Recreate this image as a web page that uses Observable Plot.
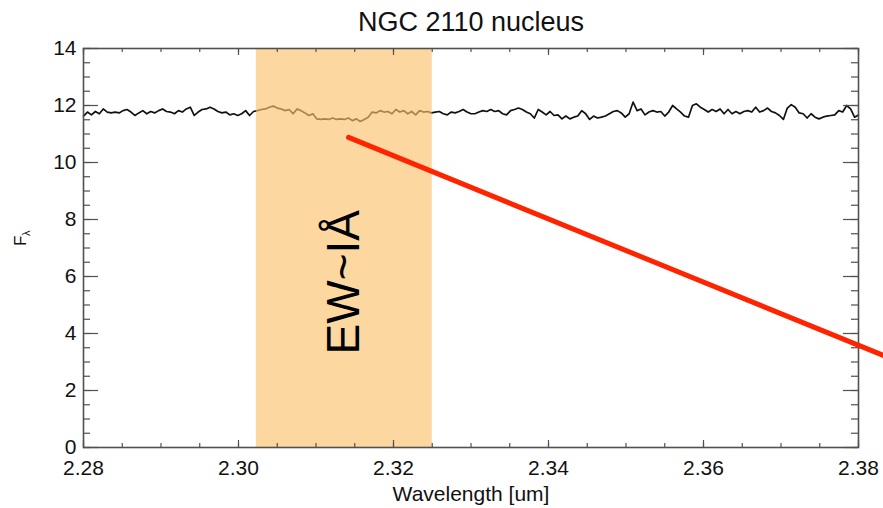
<!DOCTYPE html>
<html>
<head>
<meta charset="utf-8">
<script src="https://cdn.jsdelivr.net/npm/d3@7"></script>
<script src="https://cdn.jsdelivr.net/npm/@observablehq/plot@0.6"></script>
<style>
  html, body { margin: 0; padding: 0; background: white; }
</style>
</head>
<body>
<div id="chart"></div>
<script>
// ---- data ----
const titleText = "NGC 2110 nucleus";
const xLabelText = "Wavelength [um]";
const wavelengthStart = 2.28;
const wavelengthEnd = 2.38;
const flux = [
  11.63,11.77,11.67,11.79,11.71,11.88,11.77,11.74,11.77,11.74,11.82,11.86,11.77,11.65,11.74,11.82,11.71,11.79,11.74,11.82,11.88,11.79,11.77,11.71,11.82,11.77,11.88,11.94,11.65,11.77,11.86,11.88,11.94,
  11.88,11.79,11.74,11.77,11.67,11.71,11.65,11.71,11.82,11.65,11.79,11.82,11.86,11.88,11.94,11.98,11.91,11.88,11.82,11.86,11.71,11.88,11.82,11.74,11.65,11.71,11.53,11.51,11.53,11.51,11.56,11.51,11.53,
  11.51,11.56,11.47,11.53,11.44,11.51,11.59,11.77,11.74,11.82,11.77,11.79,11.71,11.86,11.77,11.82,11.71,11.79,11.67,11.82,11.77,11.79,11.74,11.77,11.79,11.71,11.67,11.77,11.74,11.79,11.86,11.77,11.71,
  11.71,11.77,11.82,11.79,11.86,11.79,11.82,11.71,11.67,11.82,11.86,11.91,11.86,11.77,11.71,11.56,11.86,11.77,11.67,11.79,11.65,11.67,11.53,11.63,11.53,11.59,11.63,11.82,11.71,11.51,11.63,11.56,11.59,
  11.63,11.71,11.79,11.82,11.74,11.59,11.71,12.12,11.82,11.88,11.67,11.77,11.82,11.77,11.79,11.63,11.77,12.00,11.88,11.77,11.63,11.59,12.00,12.06,11.94,11.86,11.77,11.86,11.79,11.88,11.71,11.86,11.71,
  11.79,11.71,11.79,11.82,11.77,11.94,11.77,11.82,11.91,11.79,11.74,11.65,11.51,11.91,12.03,11.94,11.74,11.71,11.56,11.71,11.59,11.53,11.59,11.63,11.65,11.67,11.82,11.77,12.00,11.88,11.59,11.67
];
const xTicks = [2.28, 2.30, 2.32, 2.34, 2.36, 2.38];
const yTicks = [0, 2, 4, 6, 8, 10, 12, 14];
const bandStart = [2.3023];
const bandEnd = [2.3250];
const redLineX = [2.3142, 2.3832];
const redLineY = [10.88, 3.23];
const ewText = ["EW~IÅ"];
const ewX = [2.3137];
const ewY = [5.8];

// ---- build tables ----
const step = (wavelengthEnd - wavelengthStart) / (flux.length - 1);
const spectrum = flux.map((f, i) => ({w: wavelengthStart + i * step, f}));
const band = bandStart.map((x1, i) => ({x1, x2: bandEnd[i]}));
const redLine = redLineX.map((x, i) => ({x, y: redLineY[i]}));
const ew = ewText.map((t, i) => ({t, x: ewX[i], y: ewY[i]}));
const xMinor = d3.range(0, 21).map(i => wavelengthStart + i * 0.005);
const yMinor = d3.range(0, 29).map(i => i * 0.5);

const W = 883, H = 508, mT = 48, mB = 61, mL = 83, mR = 25;
const fh = H - mT - mB, fw = W - mL - mR;
const axisColor = "#505050";

const chart = Plot.plot({
  width: W, height: H,
  marginTop: mT, marginBottom: mB, marginLeft: mL, marginRight: mR,
  x: {domain: [wavelengthStart, wavelengthEnd]},
  y: {domain: [0, 14]},
  style: {fontFamily: "'Liberation Sans', Arial, sans-serif", background: "white", color: "#111"},
  marks: [
    Plot.line(spectrum, {x: "w", y: "f", stroke: "#111", strokeWidth: 1.7}),
    Plot.rect(band, {x1: "x1", x2: "x2", fill: "rgb(252,193,109)", fillOpacity: 0.65}),
    Plot.frame({stroke: axisColor, strokeWidth: 1.6}),
    // x ticks (bottom and top, inward)
    Plot.ruleX(xTicks, {insetTop: fh - 7, stroke: axisColor, strokeWidth: 1.2}),
    Plot.ruleX(xTicks, {insetBottom: fh - 7, stroke: axisColor, strokeWidth: 1.2}),
    Plot.ruleX(xMinor, {insetTop: fh - 4, stroke: axisColor, strokeWidth: 1.2}),
    Plot.ruleX(xMinor, {insetBottom: fh - 4, stroke: axisColor, strokeWidth: 1.2}),
    // y ticks (left and right, inward)
    Plot.ruleY(yTicks, {insetRight: fw - 15, stroke: axisColor, strokeWidth: 1.2}),
    Plot.ruleY(yTicks, {insetLeft: fw - 15, stroke: axisColor, strokeWidth: 1.2}),
    Plot.ruleY(yMinor, {insetRight: fw - 7, stroke: axisColor, strokeWidth: 1.2}),
    Plot.ruleY(yMinor, {insetLeft: fw - 7, stroke: axisColor, strokeWidth: 1.2}),
    Plot.axisX({ticks: xTicks, tickSize: 0, tickPadding: 13, tickFormat: d3.format(".2f"), fontSize: 21, label: null}),
    Plot.axisY({ticks: yTicks, tickSize: 0, tickPadding: 7, fontSize: 21, label: null}),
    Plot.line(redLine, {x: "x", y: "y", stroke: "#ff2400", strokeWidth: 5}),
    Plot.text(ew, {x: "x", y: "y", text: "t", rotate: -90, fontSize: 46, fill: "black", lineAnchor: "middle", textAnchor: "middle"}),
    Plot.text([titleText], {frameAnchor: "top", lineAnchor: "middle", dy: -26, fontSize: 27}),
    Plot.text([xLabelText], {frameAnchor: "bottom", lineAnchor: "middle", dy: 47, fontSize: 21}),
    Plot.text(["F"], {frameAnchor: "left", lineAnchor: "middle", dx: -63, dy: -2, rotate: -90, fontSize: 17}),
    Plot.text(["λ"], {frameAnchor: "left", lineAnchor: "middle", dx: -57, dy: -12, rotate: -90, fontSize: 11})
  ]
});
document.getElementById("chart").appendChild(chart);
</script>
</body>
</html>
